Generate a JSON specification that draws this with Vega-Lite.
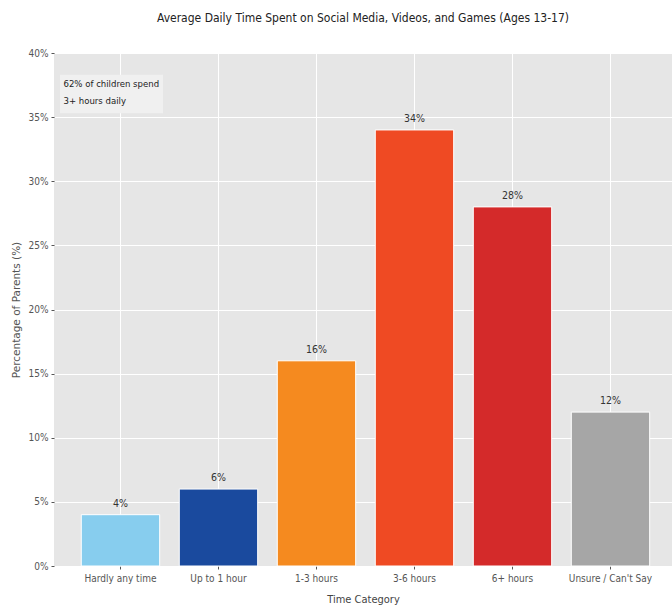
{
  "$schema": "https://vega.github.io/schema/vega-lite/v6.json",
  "autosize": {"type": "none"},
  "width": 618,
  "height": 513,
  "padding": {"left": 54, "top": 53, "right": 0, "bottom": 49},
  "background": "white",
  "title": {
    "text": "Average Daily Time Spent on Social Media, Videos, and Games (Ages 13-17)",
    "font": "DejaVu Sans Condensed, sans-serif",
    "fontSize": 12,
    "fontWeight": "normal",
    "color": "#222222",
    "anchor": "middle",
    "offset": 23
  },
  "config": {
    "view": {"fill": "#e6e6e6", "stroke": null},
    "axis": {
      "gridColor": "white",
      "gridWidth": 1,
      "domain": false,
      "tickColor": "#555555",
      "tickSize": 3,
      "labelColor": "#555555",
      "labelFont": "DejaVu Sans Condensed, sans-serif",
      "labelFontSize": 10,
      "titleFont": "DejaVu Sans Condensed, sans-serif",
      "titleFontWeight": "normal",
      "titleColor": "#444444"
    }
  },
  "data": {
    "values": [
      {"category": "Hardly any time", "pct": 4, "label": "4%"},
      {"category": "Up to 1 hour", "pct": 6, "label": "6%"},
      {"category": "1-3 hours", "pct": 16, "label": "16%"},
      {"category": "3-6 hours", "pct": 34, "label": "34%"},
      {"category": "6+ hours", "pct": 28, "label": "28%"},
      {"category": "Unsure / Can't Say", "pct": 12, "label": "12%"}
    ]
  },
  "encoding": {
    "x": {
      "field": "category",
      "type": "nominal",
      "sort": null,
      "scale": {"paddingInner": 0.2, "paddingOuter": 0.253, "align": 0.55},
      "axis": {
        "title": "Time Category",
        "titleFontSize": 11,
        "titlePadding": 10,
        "labelAngle": 0,
        "labelPadding": 4,
        "bandPosition": 0.5,
        "grid": true
      }
    }
  },
  "layer": [
    {
      "mark": {"type": "bar", "stroke": "white", "strokeWidth": 1},
      "encoding": {
        "y": {
          "field": "pct",
          "type": "quantitative",
          "scale": {"domain": [0, 40], "nice": false},
          "axis": {
            "title": "Percentage of Parents (%)",
            "titleFont": "DejaVu Sans",
            "titleFontSize": 10.5,
            "titleColor": "#555555",
            "titlePadding": 7,
            "values": [0, 5, 10, 15, 20, 25, 30, 35, 40],
            "labelExpr": "datum.value + '%'",
            "labelPadding": 3
          }
        },
        "color": {
          "field": "category",
          "type": "nominal",
          "sort": null,
          "legend": null,
          "scale": {
            "domain": ["Hardly any time", "Up to 1 hour", "1-3 hours", "3-6 hours", "6+ hours", "Unsure / Can't Say"],
            "range": ["#87cdee", "#1a4a9e", "#f58a1f", "#ef4a23", "#d42a2a", "#a6a6a6"]
          }
        }
      }
    },
    {
      "mark": {
        "type": "text",
        "baseline": "bottom",
        "dy": -6,
        "font": "DejaVu Sans Condensed, sans-serif",
        "fontSize": 10.5,
        "color": "#333333"
      },
      "encoding": {
        "y": {"field": "pct", "type": "quantitative"},
        "text": {"field": "label"}
      }
    },
    {
      "data": {"values": [{"category": "Hardly any time", "top": 38.3, "bottom": 35.3}]},
      "mark": {"type": "bar", "color": "#f0f0f0", "width": 103, "xOffset": -9},
      "encoding": {
        "y": {"field": "top", "type": "quantitative"},
        "y2": {"field": "bottom"}
      }
    },
    {
      "data": {"values": [{"category": "Hardly any time", "ypos": 37.6, "note": ["62% of children spend", "3+ hours daily"]}]},
      "mark": {
        "type": "text",
        "align": "left",
        "baseline": "middle",
        "dx": -57,
        "lineHeight": 17,
        "font": "DejaVu Sans Condensed, sans-serif",
        "fontSize": 9.5,
        "color": "#222222"
      },
      "encoding": {
        "y": {"field": "ypos", "type": "quantitative"},
        "text": {"field": "note"}
      }
    }
  ]
}
